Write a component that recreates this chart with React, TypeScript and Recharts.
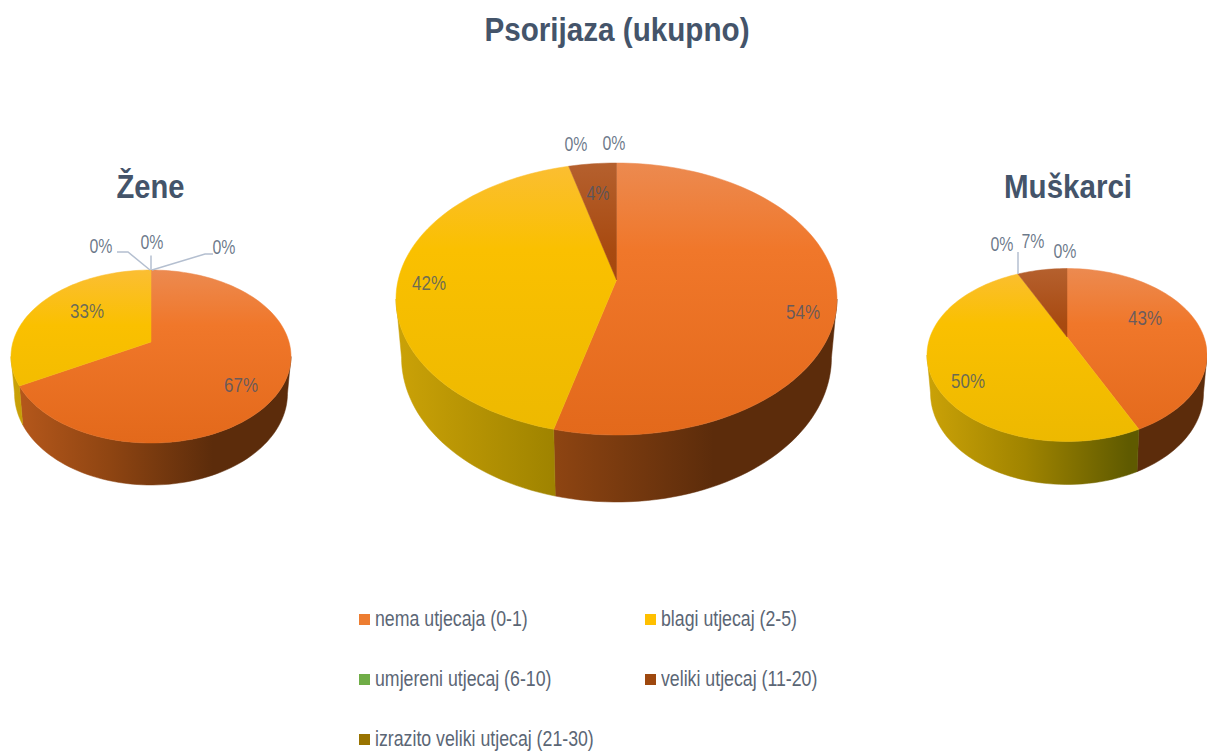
import React from 'react';
import { PieChart, Pie, Legend } from 'recharts';

const categories = [
  'nema utjecaja (0-1)',
  'blagi utjecaj (2-5)',
  'umjereni utjecaj (6-10)',
  'veliki utjecaj (11-20)',
  'izrazito veliki utjecaj (21-30)',
];
const zeneValues = [67, 33, 0, 0, 0];
const ukupnoValues = [54, 42, 0, 4, 0];
const muskarciValues = [43, 50, 0, 7, 0];

const catColors = ['#ED7D31', '#FFC000', '#70AD47', '#9E480E', '#997300'];

// vertical shading of the top face, horizontal shading of the side wall
const topStops: Record<string, string[]> = {
  '#ED7D31': ['#EC8A50', '#F0772A', '#E3691B'],
  '#FFC000': ['#FBBE33', '#FAC000', '#EDB900'],
  '#70AD47': ['#8CC168', '#70AD47', '#64A03D'],
  '#9E480E': ['#B5602E', '#A84A10', '#9C3F05'],
  '#997300': ['#B08A20', '#997300', '#8A6800'],
};
const wallStops: Record<string, string[]> = {
  '#ED7D31': ['#B8591C', '#8F4512', '#5C2C0B', '#5C2C0B'],
  '#FFC000': ['#CBA207', '#A08400', '#5F5A00', '#5F5A00'],
  '#70AD47': ['#5E8F3A', '#4A7030', '#324D20', '#324D20'],
  '#9E480E': ['#7A3A0C', '#5C2C0B', '#43200A', '#43200A'],
  '#997300': ['#7A5C00', '#5C4500', '#403000', '#403000'],
};

const toRows = (values: number[]) =>
  categories.map((name, i) => ({ name, value: values[i], fill: catColors[i] }));

type PieSpec = {
  id: string;
  rows: { name: string; value: number; fill: string }[];
  cx: number; cy: number; rx: number; ry: number;
  tilt: number; depth: number;
  spots: number[][];
  leaders: (number[][] | null)[];
};

const pies: PieSpec[] = [
  {
    id: 'zene', rows: toRows(zeneValues),
    cx: 151, cy: 356.5, rx: 140, ry: 86.5, tilt: 0.168, depth: 42,
    spots: [[90, 27.5], [-64, -46.5], [-50, -111.5], [1, -115.5], [73, -110.5]],
    leaders: [
      null, null,
      [[-1, -86.5], [-23, -104.5], [-34, -104.5]],
      [[0, -86.5], [0, -101]],
      [[1, -86.5], [54, -102.5], [62, -102.5]],
    ],
  },
  {
    id: 'ukupno', rows: toRows(ukupnoValues),
    cx: 616.5, cy: 299, rx: 220.5, ry: 136, tilt: 0.14, depth: 67,
    spots: [[186.5, 12], [-187.5, -17], [-40.5, -156], [-18.5, -107], [-2.5, -157]],
    leaders: [null, null, null, null, null],
  },
  {
    id: 'muskarci', rows: toRows(muskarciValues),
    cx: 1067, cy: 355, rx: 140, ry: 86.5, tilt: 0.208, depth: 43,
    spots: [[78, -38], [-99, 25], [-65, -112], [-34, -115], [-2, -105]],
    leaders: [null, null, null, [[-49, -81], [-49, -103]], null],
  },
];

const FONT = 'Liberation Sans, sans-serif';

// circle -> tilted ellipse; the pie centre lands above the ellipse centre like in a perspective view
const project = (spec: PieSpec, deg: number) => {
  const c = Math.cos((deg * Math.PI) / 180);
  const s = Math.sin((deg * Math.PI) / 180);
  const w = 1 + spec.tilt * s;
  return {
    x: spec.cx + (spec.rx * Math.sqrt(1 - spec.tilt * spec.tilt) * c) / w,
    y: spec.cy - (spec.ry * (s + spec.tilt)) / w,
    s,
  };
};

const arcAngles = (from: number, to: number) => {
  const n = Math.max(2, Math.ceil(Math.abs(to - from) / 2));
  return Array.from({ length: n + 1 }, (_, i) => from + ((to - from) * i) / n);
};

const makeTop = (spec: PieSpec) => (props: any) => {
  const { startAngle, endAngle, fill, index } = props;
  if (startAngle === endAngle) return <g />;
  const gid = `${spec.id}-top-${index}`;
  const stops = topStops[fill];
  const pts = arcAngles(startAngle, endAngle).map((a) => project(spec, a));
  const d = `M${spec.cx},${spec.cy - spec.ry * spec.tilt} ` + pts.map((p) => `L${p.x},${p.y}`).join(' ') + ' Z';
  return (
    <g>
      <defs>
        <linearGradient id={gid} gradientUnits="userSpaceOnUse" x1={0} x2={0} y1={spec.cy - spec.ry} y2={spec.cy + spec.ry}>
          <stop offset="0" stopColor={stops[0]} />
          <stop offset="0.32" stopColor={stops[1]} />
          <stop offset="1" stopColor={stops[2]} />
        </linearGradient>
      </defs>
      <path d={d} fill={`url(#${gid})`} stroke={`url(#${gid})`} strokeWidth={0.5} />
    </g>
  );
};

const makeWall = (spec: PieSpec) => (props: any) => {
  const { startAngle, endAngle, fill, index } = props;
  const delta = (Math.asin(spec.tilt) * 180) / Math.PI;
  const hi = Math.min(Math.max(startAngle, endAngle), -delta);
  const lo = Math.max(Math.min(startAngle, endAngle), -180 + delta);
  if (hi <= lo) return <g />;
  const gid = `${spec.id}-wall-${index}`;
  const stops = wallStops[fill];
  const upper = arcAngles(lo, hi).map((a) => project(spec, a));
  const lower = [...upper].reverse().map((p) => ({
    x: spec.cx + (p.x - spec.cx) * 0.975,
    y: p.y + spec.depth * (0.85 - 0.15 * p.s),
  }));
  const d = 'M' + [...upper, ...lower].map((p) => `${p.x},${p.y}`).join(' L') + ' Z';
  return (
    <g>
      <defs>
        <linearGradient id={gid} gradientUnits="userSpaceOnUse" y1={0} y2={0} x1={spec.cx - spec.rx} x2={spec.cx + spec.rx}>
          <stop offset="0" stopColor={stops[0]} />
          <stop offset="0.35" stopColor={stops[1]} />
          <stop offset="0.72" stopColor={stops[2]} />
          <stop offset="1" stopColor={stops[3]} />
        </linearGradient>
      </defs>
      <path d={d} fill={`url(#${gid})`} stroke={`url(#${gid})`} strokeWidth={0.5} />
    </g>
  );
};

const makeLabel = (spec: PieSpec) => (props: any) => {
  const { index, value } = props;
  const [dx, dy] = spec.spots[index];
  return (
    <text
      x={spec.cx + dx} y={spec.cy + dy}
      textAnchor="middle" dominantBaseline="central"
      fontFamily={FONT} fontSize={21} fill="#44546A" fillOpacity={0.78}
      textLength={String(value).length === 2 ? 34 : 23} lengthAdjust="spacingAndGlyphs"
    >
      {`${value}%`}
    </text>
  );
};

const makeLeader = (spec: PieSpec) => (props: any) => {
  const line = spec.leaders[props.index];
  if (!line) return <g />;
  return (
    <polyline
      points={line.map(([dx, dy]) => `${spec.cx + dx},${spec.cy + dy}`).join(' ')}
      fill="none" stroke="#B4BFD0" strokeWidth={1.5}
    />
  );
};

const LegendBlock = () => (
  <div style={{ position: 'relative', width: 1207, height: 752, fontFamily: FONT, fontSize: 22, color: '#5B6675' }}>
    {categories.map((name, i) => (
      <div
        key={name}
        style={{
          position: 'absolute',
          left: i % 2 === 0 ? 359 : 645,
          top: 604 + Math.floor(i / 2) * 60,
          height: 30,
          display: 'flex',
          alignItems: 'center',
          whiteSpace: 'nowrap',
        }}
      >
        <span style={{ width: 11, height: 11, background: catColors[i], marginRight: 5 }} />
        <span style={{ display: 'inline-block', transform: 'scaleX(0.806)', transformOrigin: 'left center' }}>{name}</span>
      </div>
    ))}
  </div>
);

const Title = ({ x, y, w, size, children }: any) => (
  <text
    x={x} y={y} textAnchor="middle" dominantBaseline="central"
    fontFamily={FONT} fontWeight={700} fontSize={size} fill="#44546A"
    textLength={w} lengthAdjust="spacingAndGlyphs"
  >
    {children}
  </text>
);

export default function App() {
  return (
    <div style={{ position: 'absolute', left: 0, top: 0, width: 1207, height: 752, background: '#fff', overflow: 'hidden' }}>
      <PieChart width={1207} height={752} margin={{ top: 0, right: 0, bottom: 0, left: 0 }}>
        {pies.map((spec) => (
          <Pie
            key={`${spec.id}-wall`}
            data={spec.rows} dataKey="value" nameKey="name"
            cx={spec.cx} cy={spec.cy} outerRadius={spec.rx}
            startAngle={90} endAngle={-270}
            stroke="none" legendType="none" label={false} labelLine={false}
            shape={makeWall(spec)}
            isAnimationActive={false}
          />
        ))}
        {pies.map((spec) => (
          <Pie
            key={`${spec.id}-top`}
            data={spec.rows} dataKey="value" nameKey="name"
            cx={spec.cx} cy={spec.cy} outerRadius={spec.rx}
            startAngle={90} endAngle={-270}
            stroke="none" legendType="none"
            shape={makeTop(spec)}
            label={makeLabel(spec)}
            labelLine={makeLeader(spec)}
            isAnimationActive={false}
          />
        ))}
        <Legend content={() => <LegendBlock />} wrapperStyle={{ left: 0, top: 0, width: 1207, height: 752, pointerEvents: 'none' }} />
        <Title x={617} y={29} w={265} size={34}>Psorijaza (ukupno)</Title>
        <Title x={150.5} y={186} w={68} size={34}>Žene</Title>
        <Title x={1068} y={186} w={128} size={34}>Muškarci</Title>
      </PieChart>
    </div>
  );
}
